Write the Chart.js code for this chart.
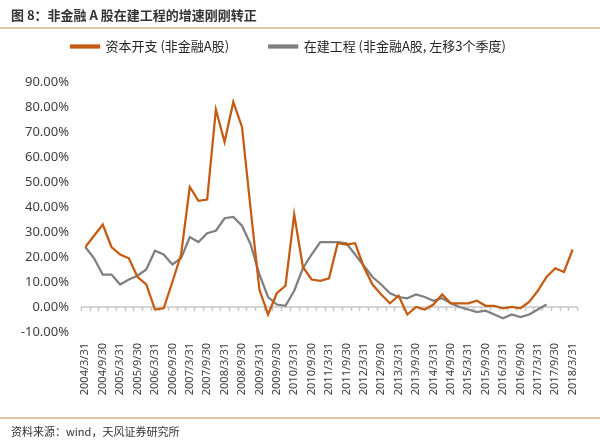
<!DOCTYPE html>
<html>
<head>
<meta charset="utf-8">
<script src="https://cdn.jsdelivr.net/npm/chart.js@4.4.0/dist/chart.umd.min.js"></script>
<style>
    html, body { margin: 0; padding: 0; background: #fff; }
    #wrap { position: relative; width: 600px; height: 443px; overflow: hidden; }
    #chart { position: absolute; left: 0; top: 0; }
    .title { position: absolute; left: 11px; top: 5px; font: bold 13px "Noto Sans CJK SC", sans-serif; color: #333; }
    .rule { position: absolute; left: 0; width: 600px; height: 2px; background: #dcc7a4; }
    .source { position: absolute; left: 11px; top: 423px; font: 11px "Noto Sans CJK SC", sans-serif; color: #333; }
</style>
</head>
<body>
<div id="wrap">
    <canvas id="chart" width="600" height="443"></canvas>
    <div class="title">图 8：非金融 A 股在建工程的增速刚刚转正</div>
    <div class="rule" style="top:27px"></div>
    <div class="rule" style="top:417px"></div>
    <div class="source">资料来源：wind，天风证券研究所</div>
</div>
<script>
// quarter ends, 2004Q1 .. 2018Q1
const quarters = [
    '2004/3/31', '2004/6/30', '2004/9/30', '2004/12/31',
    '2005/3/31', '2005/6/30', '2005/9/30', '2005/12/31',
    '2006/3/31', '2006/6/30', '2006/9/30', '2006/12/31',
    '2007/3/31', '2007/6/30', '2007/9/30', '2007/12/31',
    '2008/3/31', '2008/6/30', '2008/9/30', '2008/12/31',
    '2009/3/31', '2009/6/30', '2009/9/30', '2009/12/31',
    '2010/3/31', '2010/6/30', '2010/9/30', '2010/12/31',
    '2011/3/31', '2011/6/30', '2011/9/30', '2011/12/31',
    '2012/3/31', '2012/6/30', '2012/9/30', '2012/12/31',
    '2013/3/31', '2013/6/30', '2013/9/30', '2013/12/31',
    '2014/3/31', '2014/6/30', '2014/9/30', '2014/12/31',
    '2015/3/31', '2015/6/30', '2015/9/30', '2015/12/31',
    '2016/3/31', '2016/6/30', '2016/9/30', '2016/12/31',
    '2017/3/31', '2017/6/30', '2017/9/30', '2017/12/31',
    '2018/3/31'
];

// 资本开支 yoy, %
const capex = [
    24, 28.5, 33, 24, 21, 19.5, 12, 9, -1, -0.5,
    10, 21, 48, 42.5, 43, 79, 66, 82, 72, 39,
    7, -3, 5.5, 8.5, 37, 16, 11, 10.5, 11.5, 25.5,
    25, 25.5, 16, 9, 5, 1.5, 4.5, -3, 0, -1,
    1, 5, 1.5, 1.5, 1.5, 2.5, 0.5, 0.5, -0.5, 0,
    -0.5, 2, 6.5, 12, 15.5, 14, 23
];

// 在建工程 yoy, % (shifted 3 quarters left)
const construction = [
    24, 19.5, 13, 13, 9, 11, 12.5, 15, 22.5, 21,
    17, 19.5, 28, 26, 29.5, 30.5, 35.5, 36, 32.5, 25,
    13, 4, 1, 0.5, 6.5, 15.5, 21, 26, 26, 26,
    25.5, 21, 16.5, 12, 9, 5.5, 4, 3.5, 5, 4,
    2.5, 3.5, 1.5, 0, -1, -2, -1.5, -3, -4.5, -3,
    -4, -3, -1, 1
];

const yTicks = [-10, 0, 10, 20, 30, 40, 50, 60, 70, 80, 90];

const orange = '#c55a11';
const grey = '#7f7f7f';
const tickFont = 'Noto Sans';

// zero axis line with small category tick marks
const zeroAxis = {
    id: 'zeroAxis',
    beforeDatasetsDraw(chart) {
        const { ctx, chartArea, scales } = chart;
        const y0 = scales.y.getPixelForValue(0);
        const step = scales.x.getPixelForValue(1) - scales.x.getPixelForValue(0);
        ctx.save();
        ctx.strokeStyle = '#c8c8c8';
        ctx.lineWidth = 1.5;
        ctx.beginPath();
        ctx.moveTo(chartArea.left, y0);
        ctx.lineTo(chartArea.right, y0);
        for (let i = 0; i <= quarters.length; i++) {
            const x = Math.round(scales.x.getPixelForValue(i) - step / 2) + 0.5;
            ctx.moveTo(x, y0);
            ctx.lineTo(x, y0 + 4);
        }
        ctx.stroke();
        ctx.restore();
    }
};

const legendHeight = {
    id: 'legendHeight',
    beforeInit(chart) {
        const fit = chart.legend.fit;
        chart.legend.fit = function () {
            fit.call(this);
            this.height = 82;
        };
    }
};

new Chart(document.getElementById('chart').getContext('2d'), {
    type: 'line',
    data: {
        labels: quarters,
        datasets: [{
            label: '资本开支 (非金融A股)',
            data: capex,
            borderColor: orange,
            backgroundColor: orange,
            borderWidth: 2.25,
            pointRadius: 0,
            tension: 0
        }, {
            label: '在建工程 (非金融A股, 左移3个季度)',
            data: construction,
            borderColor: grey,
            backgroundColor: grey,
            borderWidth: 2.25,
            pointRadius: 0,
            tension: 0
        }]
    },
    options: {
        responsive: false,
        animation: false,
        layout: { padding: { left: 0, right: 23, top: 0, bottom: 21 } },
        plugins: {
            legend: {
                position: 'top',
                labels: {
                    boxWidth: 28,
                    boxHeight: 2,
                    padding: 40,
                    color: '#262626',
                    font: { family: 'Noto Sans CJK SC', size: 13 }
                }
            },
            tooltip: { enabled: false }
        },
        scales: {
            x: {
                offset: true,
                grid: { display: false, drawTicks: false },
                border: { display: false },
                afterFit: s => { s.height = 90; },
                ticks: {
                    autoSkip: false,
                    minRotation: 90,
                    maxRotation: 90,
                    padding: 11,
                    color: '#404040',
                    font: { family: tickFont, size: 11 },
                    callback: (v, i) => (i % 2 === 0 ? quarters[i] : '')
                }
            },
            y: {
                min: yTicks[0],
                max: yTicks[yTicks.length - 1],
                grid: { display: false, drawTicks: false },
                border: { display: false },
                afterFit: s => { s.width = 81; },
                afterBuildTicks: s => { s.ticks = yTicks.map(v => ({ value: v })); },
                ticks: {
                    padding: 12,
                    color: '#404040',
                    font: { family: tickFont, size: 13 },
                    callback: v => v.toFixed(2) + '%'
                }
            }
        }
    },
    plugins: [zeroAxis, legendHeight]
});
</script>
</body>
</html>
